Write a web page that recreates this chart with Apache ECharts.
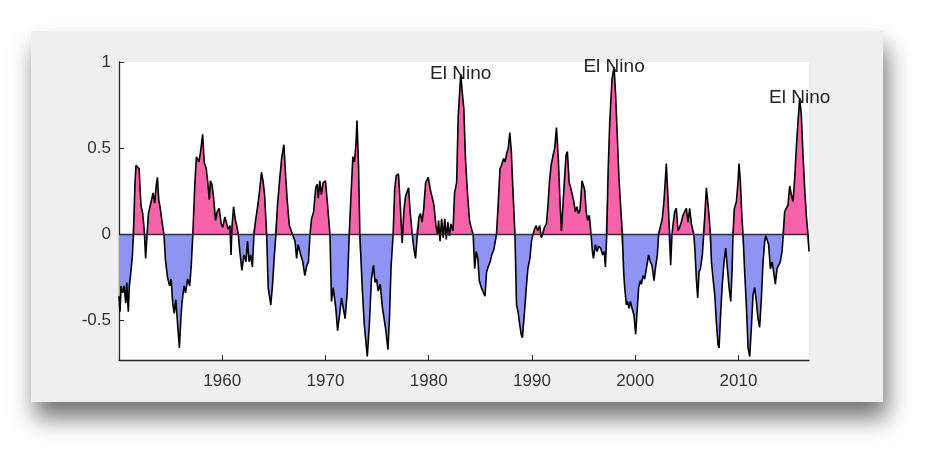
<!DOCTYPE html>
<html>
<head>
<meta charset="utf-8">
<script src="https://cdn.jsdelivr.net/npm/echarts@6/dist/echarts.min.js"></script>
<style>
  html, body { margin: 0; padding: 0; background: #fff; }
  #panel {
    position: absolute; left: 31px; top: 31px; width: 852px; height: 371px;
    background: #efefef;
    box-shadow: 4px 16px 22px rgba(0, 0, 0, 0.55);
  }
  #chart { position: absolute; left: 0; top: 0; width: 942px; height: 464px; }
</style>
</head>
<body>
<div id="panel"></div>
<div id="chart"></div>
<script>
// index, [decimal year] and [value]
const years = [
  1950.00, 1950.10, 1950.20, 1950.35, 1950.50, 1950.65, 1950.75, 1950.90, 1951.00, 1951.15,
  1951.30, 1951.40, 1951.55, 1951.65, 1951.80, 1951.95, 1952.05, 1952.15, 1952.30, 1952.45,
  1952.58, 1952.70, 1952.85, 1953.00, 1953.15, 1953.30, 1953.45, 1953.60, 1953.72, 1953.85,
  1954.00, 1954.15, 1954.35, 1954.50, 1954.70, 1954.90, 1955.05, 1955.20, 1955.35, 1955.50,
  1955.65, 1955.85, 1956.00, 1956.10, 1956.30, 1956.45, 1956.65, 1956.85, 1957.00, 1957.15,
  1957.35, 1957.50, 1957.75, 1957.90, 1958.10, 1958.25, 1958.45, 1958.60, 1958.75, 1958.85,
  1959.00, 1959.15, 1959.35, 1959.50, 1959.70, 1959.90, 1960.05, 1960.25, 1960.40, 1960.55,
  1960.75, 1960.85, 1960.95, 1961.10, 1961.25, 1961.40, 1961.55, 1961.70, 1961.90, 1962.10,
  1962.30, 1962.45, 1962.60, 1962.75, 1962.92, 1963.07, 1963.25, 1963.45, 1963.65, 1963.80,
  1963.95, 1964.10, 1964.30, 1964.45, 1964.70, 1964.85, 1965.05, 1965.20, 1965.35, 1965.55,
  1965.75, 1965.97, 1966.12, 1966.30, 1966.50, 1966.65, 1966.80, 1967.05, 1967.20, 1967.35,
  1967.60, 1967.80, 1968.00, 1968.20, 1968.35, 1968.50, 1968.65, 1968.85, 1969.05, 1969.20,
  1969.30, 1969.45, 1969.60, 1969.78, 1970.00, 1970.20, 1970.43, 1970.58, 1970.75, 1971.00,
  1971.17, 1971.40, 1971.55, 1971.70, 1971.90, 1972.10, 1972.30, 1972.45, 1972.65, 1972.80,
  1972.95, 1973.05, 1973.20, 1973.33, 1973.55, 1973.75, 1974.05, 1974.25, 1974.45, 1974.65,
  1974.80, 1974.95, 1975.10, 1975.30, 1975.50, 1975.70, 1975.85, 1976.05, 1976.20, 1976.35,
  1976.55, 1976.70, 1976.85, 1977.07, 1977.25, 1977.43, 1977.60, 1977.75, 1978.05, 1978.20,
  1978.40, 1978.55, 1978.72, 1978.90, 1979.05, 1979.20, 1979.35, 1979.50, 1979.70, 1979.95,
  1980.15, 1980.35, 1980.50, 1980.70, 1980.85, 1980.95, 1981.10, 1981.25, 1981.40, 1981.55,
  1981.70, 1981.85, 1982.00, 1982.15, 1982.35, 1982.50, 1982.70, 1982.85, 1983.10, 1983.25,
  1983.40, 1983.55, 1983.75, 1983.95, 1984.10, 1984.30, 1984.45, 1984.60, 1984.75, 1984.90,
  1985.10, 1985.30, 1985.45, 1985.60, 1985.75, 1985.95, 1986.10, 1986.30, 1986.56, 1986.72,
  1986.90, 1987.05, 1987.25, 1987.40, 1987.55, 1987.70, 1987.85, 1988.00, 1988.15, 1988.35,
  1988.50, 1988.65, 1988.80, 1988.95, 1989.07, 1989.25, 1989.45, 1989.60, 1989.80, 1989.95,
  1990.10, 1990.25, 1990.40, 1990.55, 1990.75, 1990.90, 1991.05, 1991.20, 1991.40, 1991.55,
  1991.70, 1991.85, 1992.05, 1992.20, 1992.37, 1992.55, 1992.70, 1992.85, 1993.00, 1993.15,
  1993.30, 1993.43, 1993.60, 1993.75, 1993.90, 1994.05, 1994.20, 1994.35, 1994.50, 1994.65,
  1994.85, 1995.00, 1995.10, 1995.25, 1995.40, 1995.55, 1995.72, 1995.85, 1995.95, 1996.15,
  1996.30, 1996.45, 1996.65, 1996.85, 1997.00, 1997.11, 1997.24, 1997.37, 1997.53, 1997.75,
  1997.95, 1998.10, 1998.27, 1998.43, 1998.60, 1998.75, 1998.88, 1998.98, 1999.14, 1999.24,
  1999.40, 1999.53, 1999.69, 1999.88, 2000.04, 2000.20, 2000.33, 2000.50, 2000.60, 2000.75,
  2000.91, 2001.08, 2001.30, 2001.46, 2001.62, 2001.82, 2001.95, 2002.14, 2002.27, 2002.46,
  2002.62, 2002.78, 2002.91, 2003.01, 2003.17, 2003.33, 2003.43, 2003.56, 2003.69, 2003.82,
  2003.98, 2004.14, 2004.30, 2004.46, 2004.62, 2004.78, 2004.95, 2005.11, 2005.27, 2005.44,
  2005.67, 2005.77, 2005.93, 2006.05, 2006.18, 2006.31, 2006.50, 2006.63, 2006.76, 2006.89,
  2007.00, 2007.15, 2007.28, 2007.38, 2007.54, 2007.70, 2007.86, 2008.02, 2008.12, 2008.25,
  2008.41, 2008.60, 2008.76, 2008.93, 2009.09, 2009.25, 2009.38, 2009.47, 2009.60, 2009.80,
  2009.96, 2010.05, 2010.18, 2010.34, 2010.44, 2010.60, 2010.76, 2010.93, 2011.09, 2011.25,
  2011.41, 2011.57, 2011.73, 2011.89, 2012.05, 2012.22, 2012.38, 2012.54, 2012.64, 2012.76,
  2012.92, 2013.09, 2013.25, 2013.41, 2013.57, 2013.73, 2013.89, 2014.05, 2014.22, 2014.34,
  2014.47, 2014.63, 2014.80, 2014.96, 2015.12, 2015.28, 2015.44, 2015.60, 2015.76, 2015.93,
  2016.09, 2016.25, 2016.41, 2016.57, 2016.73, 2016.83
];
const values = [
  -0.36, -0.45, -0.30, -0.34, -0.30, -0.40, -0.28, -0.45, -0.30, -0.22,
  -0.12, 0.00, 0.30, 0.40, 0.41, 0.38, 0.25, 0.16, 0.12, 0.02,
  -0.14, -0.02, 0.12, 0.16, 0.20, 0.24, 0.18, 0.28, 0.33, 0.20,
  0.15, 0.08, 0.00, -0.15, -0.25, -0.30, -0.26, -0.40, -0.46, -0.38,
  -0.50, -0.66, -0.48, -0.40, -0.30, -0.34, -0.26, -0.30, -0.18, 0.00,
  0.30, 0.45, 0.42, 0.48, 0.58, 0.42, 0.38, 0.30, 0.20, 0.31,
  0.29, 0.22, 0.08, 0.13, 0.15, 0.06, 0.04, 0.10, 0.07, 0.03,
  0.05, -0.12, 0.05, 0.16, 0.09, 0.05, 0.00, -0.10, -0.21, -0.12,
  -0.16, -0.04, -0.16, -0.12, -0.19, 0.00, 0.09, 0.17, 0.27, 0.36,
  0.31, 0.23, 0.00, -0.31, -0.41, -0.31, -0.12, 0.00, 0.17, 0.31,
  0.44, 0.52, 0.36, 0.19, 0.05, 0.04, 0.00, -0.04, -0.14, -0.06,
  -0.12, -0.16, -0.24, -0.18, -0.16, 0.00, 0.09, 0.13, 0.27, 0.29,
  0.21, 0.31, 0.23, 0.30, 0.31, 0.17, 0.00, -0.39, -0.31, -0.43,
  -0.56, -0.45, -0.37, -0.42, -0.49, -0.34, 0.00, 0.20, 0.45, 0.42,
  0.52, 0.66, 0.40, 0.00, -0.30, -0.52, -0.71, -0.52, -0.26, -0.18,
  -0.28, -0.26, -0.33, -0.29, -0.42, -0.50, -0.56, -0.67, -0.48, -0.19,
  0.00, 0.26, 0.34, 0.35, 0.16, -0.05, 0.14, 0.22, 0.27, 0.13,
  0.00, -0.08, -0.14, 0.00, 0.10, 0.12, 0.07, 0.14, 0.30, 0.33,
  0.26, 0.21, 0.17, 0.05, 0.00, 0.08, -0.04, 0.09, -0.02, 0.09,
  -0.03, 0.07, -0.01, 0.06, 0.02, 0.24, 0.30, 0.68, 0.93, 0.82,
  0.73, 0.45, 0.24, 0.08, 0.04, 0.00, -0.20, -0.10, -0.14, -0.27,
  -0.31, -0.34, -0.36, -0.22, -0.19, -0.16, -0.12, -0.09, 0.00, 0.17,
  0.38, 0.40, 0.44, 0.42, 0.47, 0.50, 0.59, 0.48, 0.26, 0.00,
  -0.41, -0.45, -0.52, -0.58, -0.60, -0.47, -0.31, -0.20, -0.14, -0.04,
  0.00, 0.03, 0.05, 0.02, 0.05, -0.02, 0.00, 0.04, 0.06, 0.17,
  0.31, 0.40, 0.46, 0.50, 0.62, 0.44, 0.21, 0.02, 0.17, 0.32,
  0.46, 0.48, 0.30, 0.27, 0.23, 0.19, 0.13, 0.16, 0.12, 0.14,
  0.31, 0.31, 0.26, 0.13, 0.08, 0.11, 0.00, -0.10, -0.14, -0.06,
  -0.10, -0.07, -0.08, -0.12, -0.10, -0.19, 0.00, 0.36, 0.65, 0.90,
  0.97, 0.81, 0.56, 0.32, 0.15, 0.00, -0.22, -0.31, -0.41, -0.39,
  -0.43, -0.39, -0.43, -0.47, -0.58, -0.43, -0.31, -0.27, -0.29, -0.24,
  -0.26, -0.20, -0.12, -0.16, -0.18, -0.27, -0.20, -0.12, 0.00, 0.05,
  0.09, 0.19, 0.31, 0.41, 0.21, 0.00, -0.18, 0.00, 0.07, 0.13,
  0.15, 0.02, 0.04, 0.07, 0.11, 0.13, 0.15, 0.07, 0.15, 0.06,
  0.00, -0.08, -0.27, -0.37, -0.22, -0.20, -0.12, 0.00, 0.13, 0.27,
  0.27, 0.11, 0.00, -0.16, -0.26, -0.35, -0.51, -0.64, -0.66, -0.49,
  -0.31, -0.16, -0.08, -0.20, -0.31, -0.39, -0.21, 0.00, 0.15, 0.19,
  0.31, 0.41, 0.31, 0.09, 0.00, -0.22, -0.41, -0.66, -0.71, -0.54,
  -0.35, -0.31, -0.39, -0.49, -0.54, -0.37, -0.16, -0.04, -0.01, -0.02,
  -0.06, -0.20, -0.16, -0.22, -0.29, -0.20, -0.18, -0.16, -0.10, 0.00,
  0.13, 0.15, 0.17, 0.28, 0.23, 0.19, 0.32, 0.50, 0.65, 0.79,
  0.69, 0.46, 0.27, 0.11, 0.00, -0.10
];
const xTicks = [1960, 1970, 1980, 1990, 2000, 2010];
const yTicks = [-0.5, 0, 0.5, 1];
const elNinoYears = [1983.10, 1997.95, 2015.93];
const elNinoText = 'El Nino';

const font = "'Liberation Sans', Arial, Helvetica, sans-serif";
const axisColor = '#262626';

const seriesData = years.map((y, i) => [y, values[i]]);

// split into the part above zero and the part below, adding the crossing
// points so each fill stops exactly where the line meets the baseline
const fillPos = [];
const fillNeg = [];
years.forEach((y, i) => {
  const v = values[i];
  if (i > 0) {
    const v0 = values[i - 1];
    if (v0 * v < 0) {
      const y0 = years[i - 1];
      const xc = y0 + (y - y0) * v0 / (v0 - v);
      fillPos.push([xc, 0]);
      fillNeg.push([xc, 0]);
    }
  }
  fillPos.push([y, Math.max(v, 0)]);
  fillNeg.push([y, Math.min(v, 0)]);
});

const elNinoMarks = elNinoYears.map((y) => ({
  coord: [y, values[years.indexOf(y)]]
}));

const chart = echarts.init(document.getElementById('chart'));
chart.setOption({
  animation: false,
  backgroundColor: 'transparent',
  grid: {
    left: 119, right: 133, top: 62, bottom: 104,
    show: true, backgroundColor: '#fff', borderWidth: 0
  },
  xAxis: {
    type: 'value',
    min: 1950,
    max: 2016.83,
    axisLine: { onZero: false, lineStyle: { color: axisColor, width: 1.3 } },
    axisTick: { inside: true, length: 5, customValues: xTicks, lineStyle: { color: axisColor } },
    axisLabel: {
      customValues: xTicks, formatter: (v) => String(v),
      color: '#333', fontSize: 17, fontFamily: font, margin: 13
    },
    splitLine: { show: false }
  },
  yAxis: {
    type: 'value',
    min: -0.73,
    max: 1,
    axisLine: { show: true, lineStyle: { color: axisColor, width: 1.3 } },
    axisTick: { show: true, inside: true, length: 5, customValues: yTicks, lineStyle: { color: axisColor } },
    axisLabel: {
      customValues: yTicks, formatter: (v) => String(v),
      color: '#333', fontSize: 17, fontFamily: font, margin: 8
    },
    splitLine: { show: false }
  },
  series: [
    {
      type: 'line',
      data: fillPos,
      showSymbol: false,
      silent: true,
      lineStyle: { width: 0, opacity: 0 },
      areaStyle: { color: '#f663a9', opacity: 1, origin: 0 }
    },
    {
      type: 'line',
      data: fillNeg,
      showSymbol: false,
      silent: true,
      lineStyle: { width: 0, opacity: 0 },
      areaStyle: { color: '#8e94f3', opacity: 1, origin: 0 }
    },
    {
      type: 'line',
      data: seriesData,
      showSymbol: false,
      silent: true,
      color: '#000',
      lineStyle: { color: '#000', width: 1.6 },
      markLine: {
        silent: true,
        symbol: 'none',
        label: { show: false },
        lineStyle: { color: '#2a2a3a', width: 1.3, type: 'solid' },
        data: [{ yAxis: 0 }]
      },
      markPoint: {
        silent: true,
        symbol: 'circle',
        symbolSize: 1,
        itemStyle: { color: 'rgba(0,0,0,0)' },
        label: {
          show: true,
          position: 'inside',
          formatter: elNinoText,
          color: '#222',
          fontSize: 19,
          fontFamily: font
        },
        data: elNinoMarks
      }
    }
  ]
});
</script>
</body>
</html>
